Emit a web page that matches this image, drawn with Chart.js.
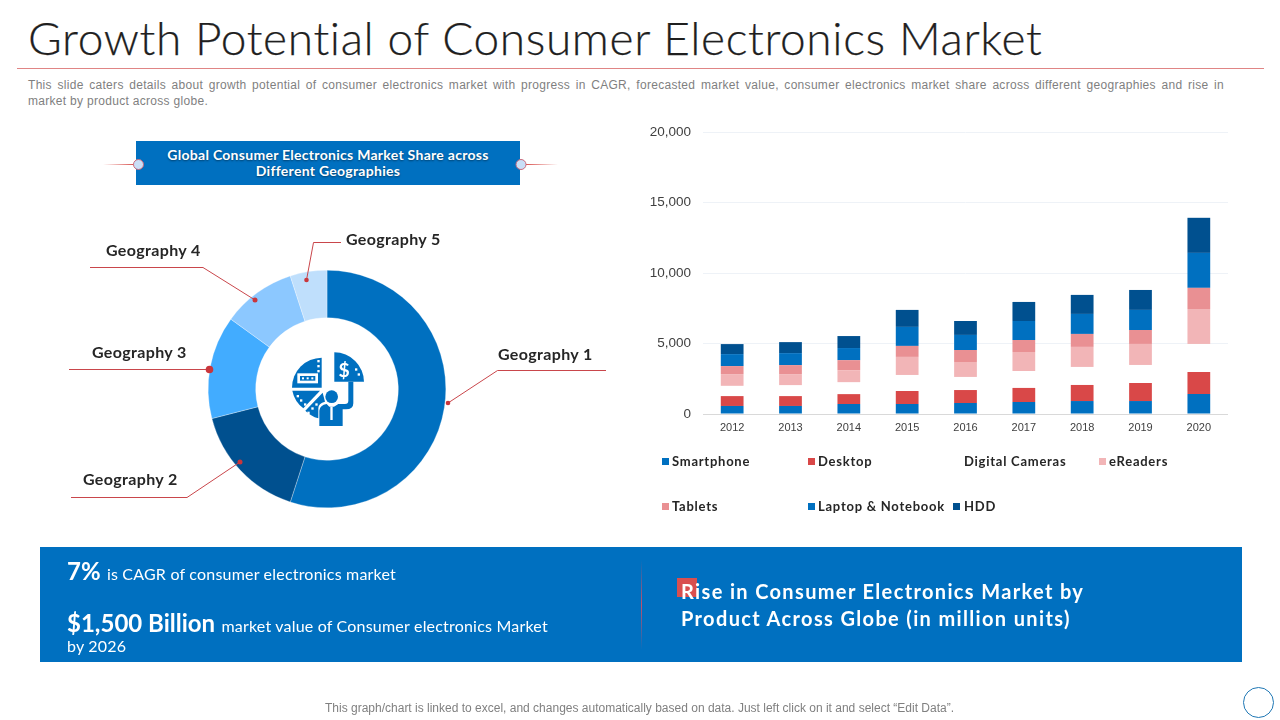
<!DOCTYPE html>
<html>
<head>
<meta charset="utf-8">
<title>Growth Potential of Consumer Electronics Market</title>
<script src="https://cdn.jsdelivr.net/npm/chart.js@4"></script>
<style>
html, body { margin: 0; padding: 0; background: #fff; }
#slide { position: relative; width: 1280px; height: 720px; overflow: hidden; font-family: Lato, sans-serif; }
#slide > * { position: absolute; }
#title { left: 28px; top: 10px; font-size: 46px; font-weight: 300; color: #1F1F1F; white-space: nowrap; line-height: 56px; letter-spacing: .65px; -webkit-text-stroke: .25px #1F1F1F; }
#rule { left: 17px; top: 68px; width: 1247px; height: 1px; background: #E08585; }
#desc { left: 28px; top: 77px; width: 1196px; font: 12px/16px "Liberation Sans", sans-serif; color: #7F7F7F; letter-spacing: .3px; }
#desc div:first-child { text-align: justify; text-align-last: justify; white-space: nowrap; }
#pieHead { left: 136px; top: 141px; width: 384px; height: 44px; background: #0070C0; color: #fff; font-weight: 700; font-size: 14px; letter-spacing: .28px; line-height: 16px; text-align: center; padding-top: 6px; box-sizing: border-box; text-shadow: 0 1px 2px rgba(0,0,0,.45); }
#pieWrap { left: 197px; top: 259px; width: 260px; height: 260px; }
#barWrap { left: 640px; top: 112px; width: 588px; height: 328px; }
#overlay { left: 0; top: 0; }
.geo { font-weight: 700; font-size: 16px; letter-spacing: .35px; line-height: 18px; color: #262626; white-space: nowrap; }
.legSwatch { width: 7px; height: 7px; }
.legText { font-weight: 700; font-size: 13px; line-height: 16px; color: #262626; white-space: nowrap; letter-spacing: .75px; }
#banner { left: 40px; top: 547px; width: 1202px; height: 115px; background: #0070C0; }
#divider { left: 641px; top: 560px; width: 1px; height: 90px; background: linear-gradient(to bottom, rgba(192,80,107,0), #C0506B 50%, rgba(192,80,107,0)); }
.bn { color: #fff; white-space: nowrap; font-size: 16px; letter-spacing: .2px; line-height: 20px; }
.bn b { font-size: 24px; font-weight: 700; margin-right: 2px; letter-spacing: 0; }
#redBox { left: 677px; top: 578px; width: 20px; height: 19px; background: #D94F4F; }
.rise { left: 681px; color: #fff; font-weight: 700; font-size: 20px; line-height: 26px; white-space: nowrap; letter-spacing: 1.35px; }
#foot { left: 0; width: 1279px; top: 701px; text-align: center; font: 12px/15px "Liberation Sans", sans-serif; color: #808080; }
#ring { left: 1243px; top: 687px; width: 29px; height: 29px; border: 1px solid #1F77B4; border-radius: 50%; }
</style>
</head>
<body>
<div id="slide">
	<div id="title">Growth Potential of Consumer Electronics Market</div>
	<div id="rule"></div>
	<div id="desc"><div>This slide caters details about growth potential of consumer electronics market with progress in CAGR, forecasted market value, consumer electronics market share across different geographies and rise in</div><div>market by product across globe.</div></div>

	<div id="pieHead">Global Consumer Electronics Market Share across<br>Different Geographies</div>
	<div id="pieWrap"><canvas id="pieChart" width="260" height="260"></canvas></div>
	<div id="barWrap"><canvas id="barChart" width="588" height="328"></canvas></div>

	<svg id="overlay" width="1280" height="720" xmlns="http://www.w3.org/2000/svg">
		<defs>
			<linearGradient id="fadeL" x1="0" x2="1" y1="0" y2="0"><stop offset="0" stop-color="#D9534F" stop-opacity="0"/><stop offset="1" stop-color="#D9534F"/></linearGradient>
			<linearGradient id="fadeR" x1="0" x2="1" y1="0" y2="0"><stop offset="0" stop-color="#D9534F"/><stop offset="1" stop-color="#D9534F" stop-opacity="0"/></linearGradient>
		</defs>
		<!-- heading tabs -->
		<rect x="103" y="164" width="31" height="1" fill="url(#fadeL)"/>
		<rect x="526" y="164" width="32" height="1" fill="url(#fadeR)"/>
		<circle cx="138.5" cy="164.5" r="5" fill="#C9DFF7" stroke="#C9687A"/>
		<circle cx="521" cy="164.5" r="5" fill="#C9DFF7" stroke="#C9687A"/>
		<!-- leader lines -->
		<g fill="none" stroke="#C9464B" stroke-width="1">
			<polyline points="448,403 497.5,370.5 606,370.5"/>
			<polyline points="240,462 187,497.5 71,497.5"/>
			<polyline points="210,369.5 69,369.5"/>
			<polyline points="255,300 203,267.5 90,267.5"/>
			<polyline points="306.5,280 313.5,242.5 341,242.5"/>
		</g>
		<g fill="#C9363C">
			<circle cx="448" cy="403" r="2.3"/>
			<circle cx="240" cy="462" r="2.5"/>
			<circle cx="209.5" cy="369.5" r="3.8"/>
			<circle cx="255" cy="300" r="2.5"/>
			<circle cx="306.5" cy="280" r="2.3"/>
		</g>
		<!-- centre icon -->
		<g transform="translate(270 340) scale(.3333)" fill="#0070C0">
			<path d="M155 143H66A90 90 0 0 1 155 53Z"/>
			<path d="M193 125V37A89 89 0 0 1 282 125Z"/>
			<path d="M67 152H150L100 205A90 90 0 0 1 67 152Z"/>
			<path d="M158 158L106 212A90 90 0 0 0 145 235V205Q145 190 165 185Z"/>
			<circle cx="185" cy="170" r="19"/>
			<path d="M148 258V212Q150 195 170 192L178 200H192L205 192H225Q235 192 235 182V125H250V190Q250 208 228 208H218V258Z"/>
			<g fill="#fff">
				<rect x="82" y="100" width="62" height="30"/>
				<rect x="142" y="60" width="7" height="7"/><rect x="142" y="75" width="7" height="7"/><rect x="142" y="90" width="7" height="7"/>
				<rect x="80" y="165" width="7" height="7"/><rect x="90" y="178" width="7" height="7"/><rect x="102" y="190" width="7" height="7"/>
				<rect x="112" y="215" width="7" height="7"/><rect x="124" y="202" width="7" height="7"/><rect x="136" y="190" width="7" height="7"/>
				<rect x="255" y="85" width="7" height="7"/><rect x="263" y="100" width="7" height="7"/>
				<rect x="181" y="200" width="7" height="40"/>
				<text x="222" y="112" font-family="Lato" font-weight="700" font-size="58" text-anchor="middle">$</text>
			</g>
			<rect x="90" y="108" width="46" height="14"/>
			<g fill="#fff"><rect x="96" y="112" width="6" height="6"/><rect x="110" y="112" width="6" height="6"/><rect x="124" y="112" width="6" height="6"/></g>
		</g>
	</svg>

	<div id="banner"></div>
	<div id="divider"></div>
	<div class="bn" style="left:67px;top:561px"><b>7%</b> is CAGR of consumer electronics market</div>
	<div class="bn" style="left:67px;top:613px"><b>$1,500 Billion</b> market value of Consumer electronics Market</div>
	<div class="bn" style="left:67px;top:636px">by 2026</div>
	<div id="redBox"></div>
	<div class="rise" style="top:578px">Rise in Consumer Electronics Market by</div>
	<div class="rise" style="top:605px">Product Across Globe (in million units)</div>

	<div id="foot">This graph/chart is linked to excel, and changes automatically based on data. Just left click on it and select “Edit Data”.</div>
	<div id="ring"></div>
</div>

<script>
// Doughnut values
const geographies = ['Geography 1', 'Geography 2', 'Geography 3', 'Geography 4', 'Geography 5'];
const geoShares = [55, 16, 14, 10, 5];
const geoColors = ['#0070C0', '#00508F', '#42ACFF', '#8CC8FF', '#BFDFFC'];

// Stacked bar values (million units)
const years = ['2012', '2013', '2014', '2015', '2016', '2017', '2018', '2019', '2020'];
const smartphone = [570, 570, 710, 710, 780, 850, 920, 920, 1420];
const desktop = [700, 700, 700, 920, 920, 1000, 1140, 1280, 1560];
const digitalCameras = [730, 780, 850, 1140, 930, 1200, 1280, 1280, 1990];
const eReaders = [830, 780, 850, 1280, 1060, 1350, 1420, 1490, 2480];
const tablets = [570, 640, 710, 780, 850, 850, 920, 990, 1500];
const laptopNotebook = [850, 850, 860, 1350, 1070, 1350, 1420, 1425, 2480];
const hdd = [710, 780, 850, 1205, 990, 1350, 1350, 1415, 2490];
const yTicks = [0, 5000, 10000, 15000, 20000];

// Where the geography captions sit around the doughnut
const geoCaptions = [[498, 345], [83, 470], [92, 343], [106, 241], [346, 230]];
// Legend slots: swatch x, text x, y
const legendSlots = [[662, 672, 461], [808, 818, 461], [954, 964, 461], [1099, 1109, 461], [662, 672, 506], [808, 818, 506], [953, 964, 506]];

Chart.defaults.animation = false;
Chart.defaults.responsive = false;

new Chart(document.getElementById('pieChart'), {
	type: 'doughnut',
	data: {
		labels: geographies,
		datasets: [{
			data: geoShares,
			backgroundColor: geoColors,
			borderColor: '#FFFFFF',
			borderWidth: 0.3
		}]
	},
	options: {
		cutout: '60%',
		layout: { padding: 11 },
		plugins: { legend: { display: false }, tooltip: { enabled: false } }
	}
});

var barSeries = [
	{ label: 'Smartphone', data: smartphone, backgroundColor: '#0070C0' },
	{ label: 'Desktop', data: desktop, backgroundColor: '#D94848' },
	{ label: 'Digital Cameras', data: digitalCameras, backgroundColor: 'rgba(255, 255, 255, 0)' },
	{ label: 'eReaders', data: eReaders, backgroundColor: '#F2B5B7' },
	{ label: 'Tablets', data: tablets, backgroundColor: '#E99093' },
	{ label: 'Laptop & Notebook', data: laptopNotebook, backgroundColor: '#0070C0' },
	{ label: 'HDD', data: hdd, backgroundColor: '#00508F' }
];

new Chart(document.getElementById('barChart'), {
	type: 'bar',
	data: {
		labels: years,
		datasets: barSeries.map(function(s) {
			return Object.assign({ stack: 'all', categoryPercentage: 1, barPercentage: 0.39 }, s);
		})
	},
	options: {
		plugins: { legend: { display: false }, tooltip: { enabled: false } },
		scales: {
			x: {
				stacked: true,
				grid: { display: false, drawTicks: false },
				border: { color: '#D9D9D9' },
				ticks: { color: '#404040', font: { family: 'Liberation Sans', size: 11 }, padding: 7, maxRotation: 0 },
				afterFit: function(scale) { scale.height = 26; }
			},
			y: {
				stacked: true,
				min: 0,
				max: 20000,
				afterBuildTicks: function(scale) { scale.ticks = yTicks.map(function(v) { return { value: v }; }); },
				grid: { color: '#EEF2F7', drawTicks: false },
				border: { display: false },
				ticks: {
					color: '#404040',
					font: { family: 'Liberation Sans', size: 13.5 },
					padding: 12, // also pads the top of the plot by this much
					callback: function(v) { return v.toLocaleString('en-US'); }
				},
				afterFit: function(scale) { scale.width = 63; }
			}
		}
	}
});

// Captions and legend are plain DOM, built from the arrays above
var slide = document.getElementById('slide');

function addText(cls, text, x, y) {
	var d = document.createElement('div');
	d.className = cls;
	d.textContent = text;
	d.style.left = x + 'px';
	d.style.top = y + 'px';
	slide.appendChild(d);
}

geographies.forEach(function(name, i) {
	addText('geo', name, geoCaptions[i][0], geoCaptions[i][1]);
});

barSeries.forEach(function(s, i) {
	var slot = legendSlots[i];
	var sw = document.createElement('div');
	sw.className = 'legSwatch';
	sw.style.left = slot[0] + 'px';
	sw.style.top = (slot[2] - 3) + 'px';
	sw.style.background = s.backgroundColor;
	slide.appendChild(sw);
	addText('legText', s.label, slot[1], slot[2] - 8);
});
</script>
</body>
</html>
